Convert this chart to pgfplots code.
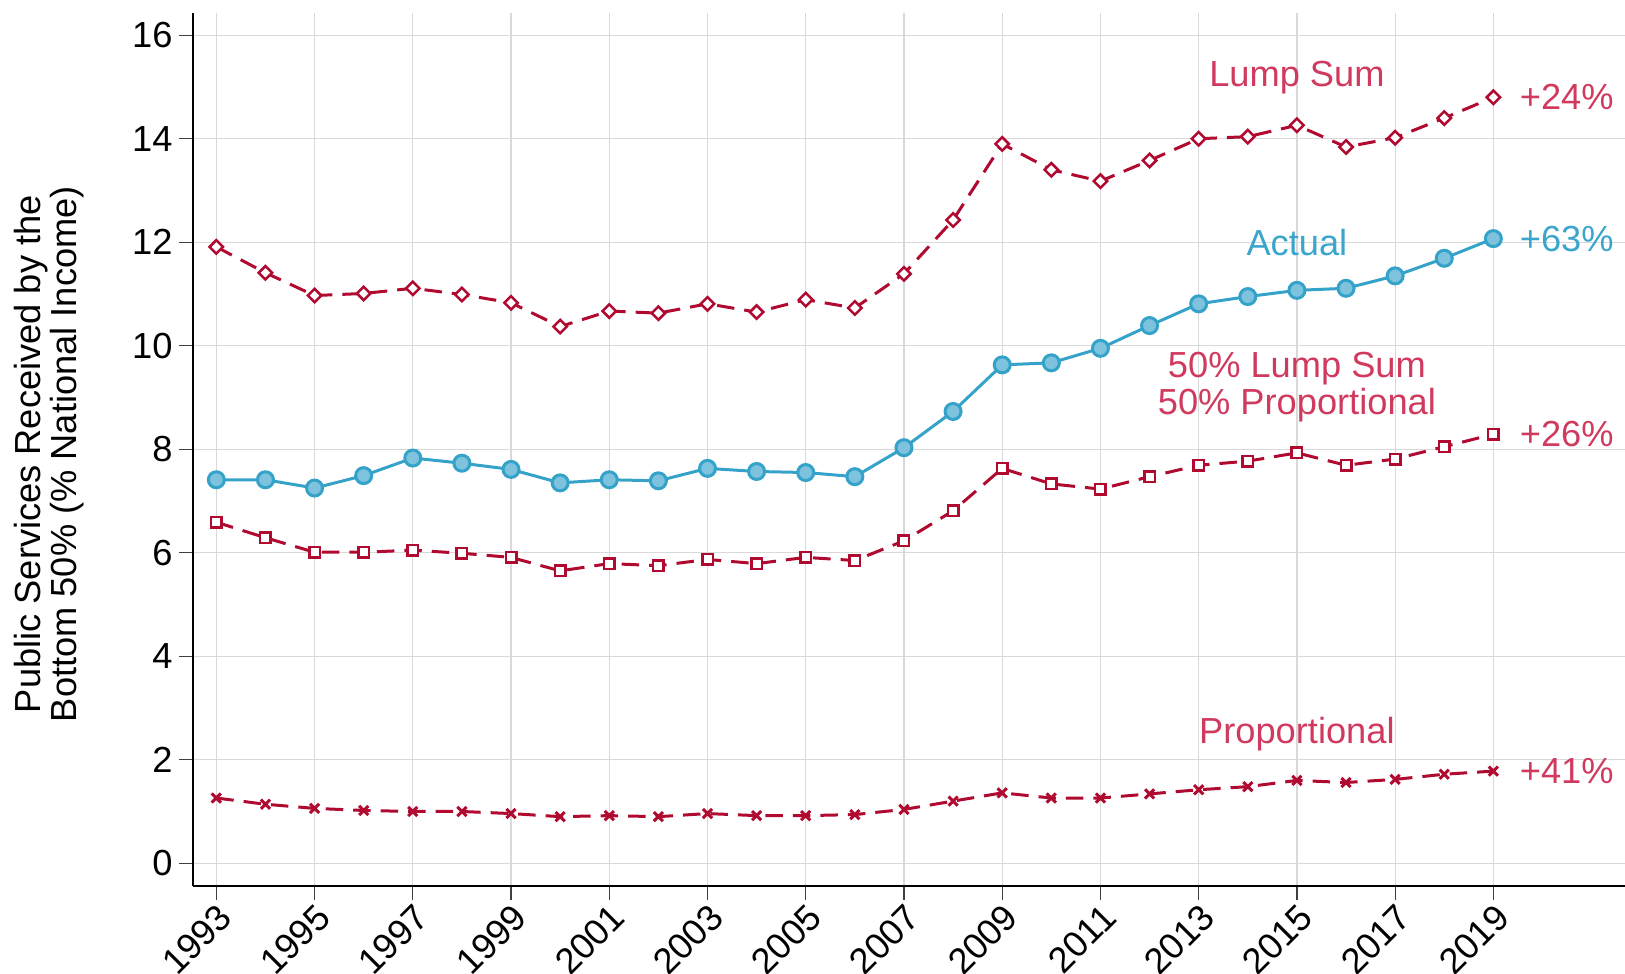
\documentclass[border=0pt]{standalone}
\usepackage{fontspec}
\setmainfont{Liberation Sans}
\usepackage{pgfplots}
\pgfplotsset{compat=1.18}
\definecolor{lsred}{HTML}{B00A30}
\definecolor{txtred}{HTML}{D03A5E}
\definecolor{bline}{HTML}{35A3C9}
\definecolor{bfill}{HTML}{7DC3DE}
\definecolor{btxt}{HTML}{3AA6CC}
\newcommand{\lf}{\fontsize{14.5}{14.5}\selectfont}
\newcommand{\xf}{\fontsize{14.5}{14.5}\selectfont}
\begin{document}
\begin{tikzpicture}
\begin{axis}[
  scale only axis, width=572.9pt, height=349pt,
  xmin=1992.52, xmax=2021.68, ymin=-0.44, ymax=16.42,
  axis x line*=bottom, axis y line*=left,
  axis line style={line width=0.8pt, black, -},
  xtick={1993,1995,...,2019}, ytick={0,2,...,16},
  grid=major, grid style={draw=black!15, line width=0.5pt},
  tick align=outside, major tick length=5.4pt,
  x tick style={black!75, line width=0.5pt},
  y tick style={black!75, line width=0.5pt},
  /pgf/number format/1000 sep={},
  /pgf/number format/assume math mode=true,
  x tick label style={rotate=45, anchor=north east, font=\xf, inner sep=0.5pt},
  y tick label style={font=\lf, inner sep=2.5pt},
  ylabel={Public Services Received by the\\Bottom 50\% (\% National Income)},
  ylabel style={at={(axis description cs:-0.1004,0.495)}, anchor=center, align=center, font=\lf},
  clip=false,
]
% Lump Sum
\addplot[lsred, line width=1.2pt, dash pattern=on 7pt off 4pt,
  mark=square*, mark size=1.9pt, mark options={solid, rotate=45, fill=white, draw=lsred, line width=1pt}]
  coordinates {
  (1993,11.91) (1994,11.41) (1995,10.97) (1996,11.01) (1997,11.11) (1998,10.99) (1999,10.83)
  (2000,10.37) (2001,10.67) (2002,10.63) (2003,10.81) (2004,10.65) (2005,10.89) (2006,10.73)
  (2007,11.39) (2008,12.43) (2009,13.90) (2010,13.40) (2011,13.18) (2012,13.58) (2013,14.00)
  (2014,14.04) (2015,14.26) (2016,13.84) (2017,14.02) (2018,14.40) (2019,14.80)};
% 50/50
\addplot[lsred, line width=1.2pt, dash pattern=on 7pt off 4pt,
  mark=square*, mark size=2.1pt, mark options={solid, fill=white, draw=lsred, line width=1pt}]
  coordinates {
  (1993,6.59) (1994,6.29) (1995,6.01) (1996,6.01) (1997,6.05) (1998,5.99) (1999,5.91)
  (2000,5.65) (2001,5.79) (2002,5.75) (2003,5.87) (2004,5.79) (2005,5.91) (2006,5.85)
  (2007,6.23) (2008,6.81) (2009,7.63) (2010,7.33) (2011,7.23) (2012,7.47) (2013,7.69)
  (2014,7.77) (2015,7.93) (2016,7.69) (2017,7.81) (2018,8.05) (2019,8.29)};
% Proportional
\addplot[lsred, line width=1.2pt, dash pattern=on 7pt off 4pt,
  mark=x, mark size=2.6pt, mark options={solid, draw=lsred, line width=1.2pt}]
  coordinates {
  (1993,1.26) (1994,1.14) (1995,1.06) (1996,1.02) (1997,1.00) (1998,1.00) (1999,0.96)
  (2000,0.90) (2001,0.92) (2002,0.90) (2003,0.96) (2004,0.92) (2005,0.92) (2006,0.94)
  (2007,1.04) (2008,1.20) (2009,1.36) (2010,1.26) (2011,1.26) (2012,1.34) (2013,1.42)
  (2014,1.48) (2015,1.60) (2016,1.56) (2017,1.62) (2018,1.72) (2019,1.78)};
% Actual
\addplot[bline, line width=1.2pt,
  mark=*, mark size=3.2pt, mark options={fill=bfill, draw=bline, line width=1.2pt}]
  coordinates {
  (1993,7.41) (1994,7.41) (1995,7.25) (1996,7.49) (1997,7.83) (1998,7.73) (1999,7.61)
  (2000,7.35) (2001,7.41) (2002,7.39) (2003,7.63) (2004,7.57) (2005,7.55) (2006,7.47)
  (2007,8.03) (2008,8.73) (2009,9.63) (2010,9.67) (2011,9.95) (2012,10.39) (2013,10.81)
  (2014,10.95) (2015,11.07) (2016,11.11) (2017,11.35) (2018,11.69) (2019,12.07)};
\node[txtred, font=\lf] at (axis cs:2015,15.18) {Lump Sum};
\node[btxt, font=\lf] at (axis cs:2015,12.0) {Actual};
\node[txtred, font=\lf, align=center] at (axis cs:2015,9.2) {50\% Lump Sum\\50\% Proportional};
\node[txtred, font=\lf] at (axis cs:2015,2.5) {Proportional};
\node[txtred, font=\lf, anchor=west, inner sep=0pt] at (axis cs:2019.53,14.80) {+24\%};
\node[btxt, font=\lf, anchor=west, inner sep=0pt] at (axis cs:2019.53,12.07) {+63\%};
\node[txtred, font=\lf, anchor=west, inner sep=0pt] at (axis cs:2019.53,8.29) {+26\%};
\node[txtred, font=\lf, anchor=west, inner sep=0pt] at (axis cs:2019.53,1.78) {+41\%};
\end{axis}
\pgfresetboundingbox
\path ([xshift=-77.1pt, yshift=-34.8pt]current axis.south west) rectangle ([yshift=5.4pt]current axis.north east);
\end{tikzpicture}
\end{document}
